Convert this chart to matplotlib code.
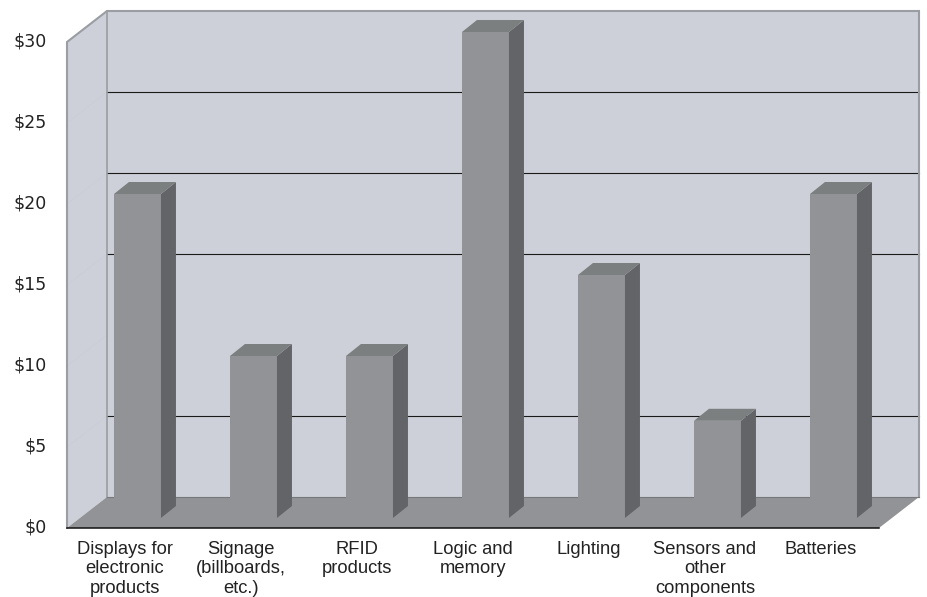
import matplotlib
matplotlib.use('Agg')
import matplotlib.pyplot as plt
from matplotlib.transforms import ScaledTranslation

categories = ['Displays for\nelectronic\nproducts', 'Signage\n(billboards,\netc.)', 'RFID\nproducts',
              'Logic and\nmemory', 'Lighting', 'Sensors and\nother\ncomponents', 'Batteries']
values = [20, 10, 10, 30, 15, 6, 20]
y_ticks = [0, 5, 10, 15, 20, 25, 30]
y_labels = ['$0', '$5', '$10', '$15', '$20', '$25', '$30']
grid_levels = [5, 15, 20, 25]
faint_levels = [5, 10, 15, 20, 25]

# pixel sizes of the fake 3d, turned into data units below
px_x = 116.0
px_y = 16.2
wall_dx = 40 / px_x
wall_dy = 31 / px_y
bar_dx = 15 / px_x
bar_dy = 12 / px_y
bar_lift = 10 / px_y
bar_left = 0.405
bar_width = 0.405

wall_col = '#cdd0d8'
edge_col = '#9a9da1'
front_col = '#929396'
side_col = '#636468'
top_col = '#7c7f7f'

fig = plt.figure(figsize=(9.27, 5.97), dpi=100)
ax = fig.add_axes([67 / 927, (597 - 528) / 597, 812 / 927, 486 / 597])
ax.set_xlim(0, 7)
ax.set_ylim(0, 30)

# back wall and left wall
ax.fill([wall_dx, 7 + wall_dx, 7 + wall_dx, wall_dx], [wall_dy, wall_dy, 30 + wall_dy, 30 + wall_dy],
        facecolor=wall_col, edgecolor='none', clip_on=False, zorder=1)
ax.fill([0, wall_dx, wall_dx, 0], [0, wall_dy, 30 + wall_dy, 30],
        facecolor=wall_col, edgecolor='none', clip_on=False, zorder=1)

for level in faint_levels:
    ax.plot([0, wall_dx], [level, level + wall_dy], color='#c9ccd4', lw=0.4, clip_on=False, zorder=2)
for level in grid_levels:
    ax.plot([wall_dx, 7 + wall_dx], [level + wall_dy, level + wall_dy], color='#1a1a1a', lw=0.8,
            clip_on=False, zorder=2)

ax.plot([0, 0, wall_dx, 7 + wall_dx, 7 + wall_dx], [0, 30, 30 + wall_dy, 30 + wall_dy, wall_dy],
        color=edge_col, lw=1.5, clip_on=False, zorder=3, solid_joinstyle='miter')
ax.plot([wall_dx, wall_dx], [wall_dy, 30 + wall_dy], color=edge_col, lw=1.2, clip_on=False, zorder=3)

# floor
ax.fill([0, wall_dx, 7 + wall_dx, 7], [0, wall_dy, wall_dy, 0],
        facecolor=front_col, edgecolor='none', clip_on=False, zorder=4)
ax.plot([wall_dx, 7 + wall_dx], [wall_dy, wall_dy], color='#77787b', lw=0.8, clip_on=False, zorder=4)
ax.plot([0, 7], [0, 0], color='#111111', lw=1.1, clip_on=False, zorder=5)

# bars
lefts = [i + bar_left for i in range(len(values))]
ax.bar(lefts, values, width=bar_width, bottom=bar_lift, align='edge', color=front_col, zorder=6, clip_on=False)
for x, v in zip(lefts, values):
    r = x + bar_width
    low = bar_lift
    high = bar_lift + v
    ax.fill([r, r + bar_dx, r + bar_dx, r], [low, low + bar_dy, high + bar_dy, high],
            facecolor=side_col, edgecolor='none', clip_on=False, zorder=6)
    ax.fill([x, x + bar_dx, r + bar_dx, r], [high, high + bar_dy, high + bar_dy, high],
            facecolor=top_col, edgecolor='none', clip_on=False, zorder=6)

for s in ax.spines.values():
    s.set_visible(False)
ax.patch.set_visible(False)

ax.set_yticks(y_ticks)
ax.set_yticklabels(y_labels, family='DejaVu Sans', fontsize=12.5, color='#222222')
ax.set_xticks([i + 0.5 for i in range(len(categories))])
ax.set_xticklabels(categories, family='Liberation Sans', fontsize=13.2, color='#222222', linespacing=1.2)
ax.tick_params(axis='y', length=0, pad=14.5)
ax.tick_params(axis='x', length=0, pad=9)

# y labels sit a little higher than the ticks
shift = ScaledTranslation(0, 2.5 / 100, fig.dpi_scale_trans)
for lab in ax.get_yticklabels():
    lab.set_transform(lab.get_transform() + shift)

fig.savefig('out.png', dpi=100)
